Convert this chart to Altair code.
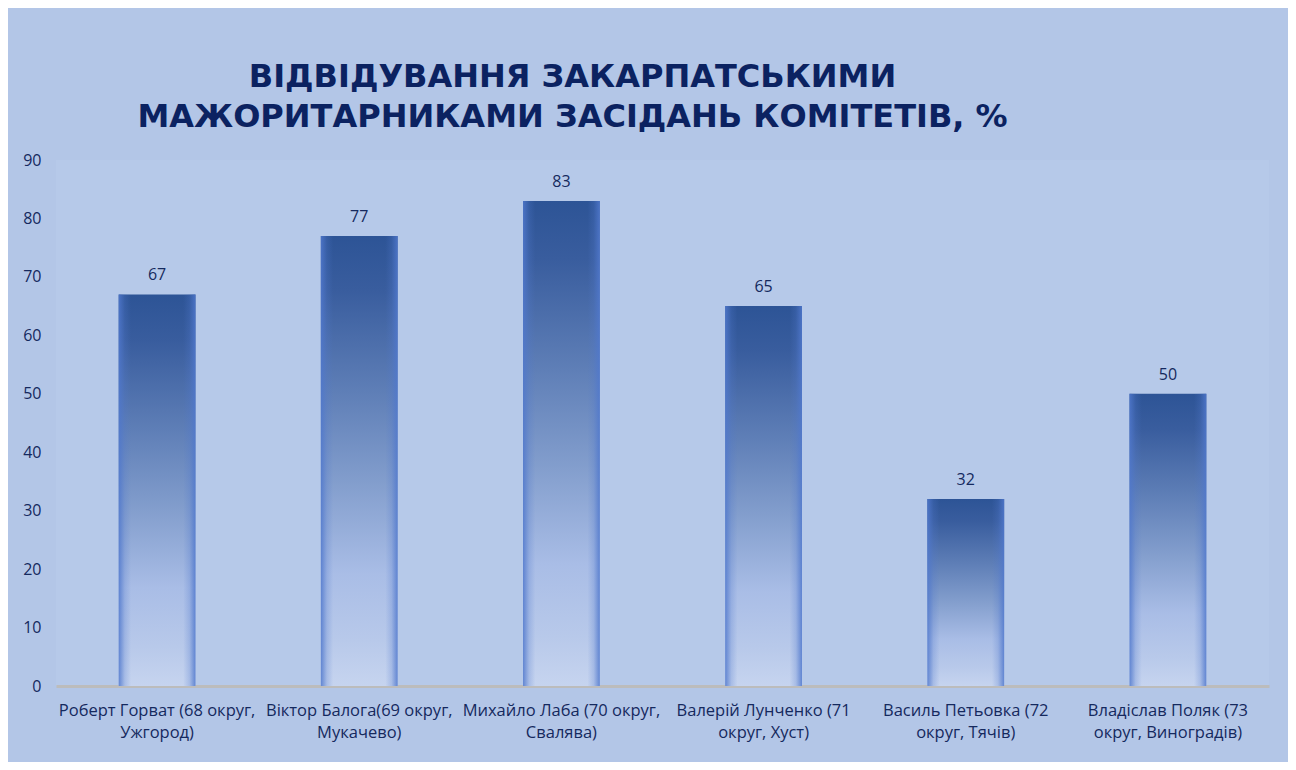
import altair as alt
import pandas as pd

# ---- data ----
label_line1 = [
    "Роберт Горват (68 округ,",
    "Віктор Балога(69 округ,",
    "Михайло Лаба (70 округ,",
    "Валерій Лунченко (71",
    "Василь Петьовка (72",
    "Владіслав Поляк (73",
]
label_line2 = [
    "Ужгород)",
    "Мукачево)",
    "Свалява)",
    "округ, Хуст)",
    "округ, Тячів)",
    "округ, Виноградів)",
]
values = [67, 77, 83, 65, 32, 50]
y_ticks = [0, 10, 20, 30, 40, 50, 60, 70, 80, 90]
title_lines = ["ВІДВІДУВАННЯ ЗАКАРПАТСЬКИМИ", "МАЖОРИТАРНИКАМИ ЗАСІДАНЬ КОМІТЕТІВ, %"]

categories = [a + "|" + b for a, b in zip(label_line1, label_line2)]
df = pd.DataFrame({"name": categories, "value": values})

LABEL_COLOR = "#15295e"
TITLE_COLOR = "#0b2261"

x = alt.X(
    "name:N",
    sort=categories,
    scale=alt.Scale(paddingInner=0.62, paddingOuter=0.31),
    axis=alt.Axis(
        title=None,
        labelAngle=0,
        labelExpr="split(datum.label, '|')",
        ticks=False,
        domainColor="#bcbcbc",
        domainWidth=3,
        labelFont="Open Sans",
        labelFontSize=16.5,
        labelColor=LABEL_COLOR,
        labelPadding=16,
        labelLineHeight=22,
        labelLimit=260,
    ),
)
y = alt.Y(
    "value:Q",
    scale=alt.Scale(domain=[0, 90], nice=False),
    axis=alt.Axis(
        values=y_ticks,
        title=None,
        domain=False,
        ticks=False,
        grid=False,
        labelPadding=15,
        labelFont="Open Sans",
        labelFontSize=16,
        labelColor=LABEL_COLOR,
    ),
)

vertical = alt.Gradient(
    gradient="linear",
    x1=0, y1=0, x2=0, y2=1,
    stops=[
        alt.GradientStop(offset=0.0, color="#2d5496"),
        alt.GradientStop(offset=0.12, color="#395d9e"),
        alt.GradientStop(offset=0.35, color="#5f7fb7"),
        alt.GradientStop(offset=0.55, color="#839ecd"),
        alt.GradientStop(offset=0.75, color="#a9bde6"),
        alt.GradientStop(offset=0.9, color="#b8c9ea"),
        alt.GradientStop(offset=1.0, color="#c6d4ef"),
    ],
)
edges = alt.Gradient(
    gradient="linear",
    x1=0, y1=0, x2=1, y2=0,
    stops=[
        alt.GradientStop(offset=0.0, color="rgba(80,120,205,0.85)"),
        alt.GradientStop(offset=0.08, color="rgba(80,120,205,0.25)"),
        alt.GradientStop(offset=0.16, color="rgba(80,120,205,0)"),
        alt.GradientStop(offset=0.84, color="rgba(80,120,205,0)"),
        alt.GradientStop(offset=0.92, color="rgba(80,120,205,0.25)"),
        alt.GradientStop(offset=1.0, color="rgba(80,120,205,0.85)"),
    ],
)

base = alt.Chart(df).encode(x=x, y=y)

bars = base.mark_bar(color=vertical)
bar_edges = base.mark_bar(color=edges)
text = base.mark_text(
    baseline="bottom",
    dy=-11,
    font="Open Sans",
    fontSize=16,
    color=LABEL_COLOR,
).encode(text=alt.Text("value:Q"))

chart = (
    alt.layer(bars, bar_edges, text)
    .properties(
        width=1213,
        height=526,
        title=alt.TitleParams(
            text=title_lines,
            font="DejaVu Sans",
            fontSize=32,
            fontWeight="bold",
            color=TITLE_COLOR,
            anchor="middle",
            dx=-90,
            lineHeight=40,
            offset=18,
        ),
        autosize=alt.AutoSizeParams(type="none"),
        padding={"left": 48, "top": 152, "right": 19, "bottom": 76},
        background="#b3c6e7",
    )
    .configure_view(fill="#b6c9e9", stroke=None)
)

chart.save("out.html", embed_options={"renderer": "svg", "actions": False})
